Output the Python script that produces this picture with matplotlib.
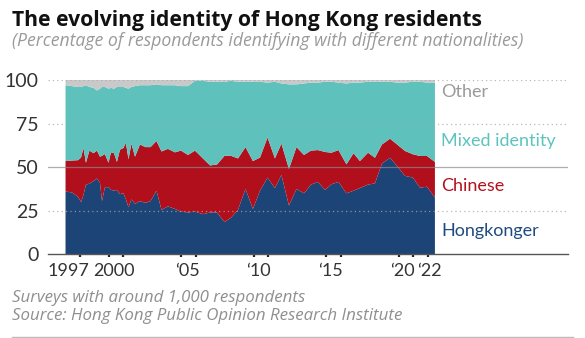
import numpy as np
import matplotlib
matplotlib.use("Agg")
import matplotlib.pyplot as plt

plt.rcParams['font.family'] = ['Lato', 'DejaVu Sans']

# survey dates (decimal years) and shares
dates = [1997.0, 1997.44, 1997.86, 1998.07, 1998.24, 1998.41, 1998.65, 1998.93,
         1999.17, 1999.38, 1999.52, 1999.72, 1999.97, 2000.14, 2000.35, 2000.55,
         2000.76, 2001.0, 2001.17, 2001.35, 2001.55, 2001.8, 2002.14, 2002.52,
         2002.87, 2003.28, 2003.63, 2004.07, 2004.56, 2004.97, 2005.46, 2005.94,
         2006.49, 2006.98, 2007.46, 2007.98, 2008.43, 2008.91, 2009.43, 2009.94,
         2010.43, 2010.95, 2011.46, 2011.91, 2012.43, 2012.95, 2013.47, 2013.95,
         2014.43, 2014.92, 2015.37, 2015.85, 2016.40, 2016.89, 2017.33, 2017.89,
         2018.37, 2018.85, 2019.41, 2019.89, 2020.44, 2020.99, 2021.48, 2021.96,
         2022.51]
hongkonger = [36, 35.5, 33, 30, 34, 40, 40.5, 42, 43.5, 41, 30.5, 38.5, 38.5, 37,
              36.5, 37, 34.5, 35, 31.5, 27, 31.5, 29, 30.5, 29.5, 30.5, 36.5, 25.5,
              27.5, 26, 24.5, 24, 24.5, 23, 24, 24, 18.5, 21, 25.5, 37.5, 26, 36.5,
              44, 38, 45.5, 28, 37.5, 35, 40, 41.5, 37, 40.2, 41.5, 35, 36.5, 38,
              40, 40.7, 52, 55.4, 50.7, 45, 44, 38.2, 38.8, 32.5]
chinese = [17.5, 18.3, 21, 25.5, 27, 12.5, 19, 16, 16, 15, 26, 19, 14, 21.5, 21.5,
           16, 25.5, 26, 32.5, 27.5, 32, 27, 32.5, 32, 31, 28.5, 33.5, 33, 32.5,
           35, 33, 35, 32, 27, 27.5, 38, 35.5, 29.5, 24, 27.5, 19, 23, 17, 18, 21,
           24, 22, 19.5, 18.3, 21.7, 18.1, 18.3, 16.6, 21.5, 15.5, 18.3, 14.7, 11,
           10.9, 12.4, 14.3, 13.4, 18.2, 17.6, 20.5]
other = [3, 3.5, 4, 4, 3.5, 3, 4, 4.5, 6, 5, 4, 4, 5, 4.5, 5, 4, 4, 4, 4.5, 5, 4,
         3.5, 3, 3, 3, 2.5, 3, 3, 3, 3.5, 3.5, 0.5, 0.5, 1, 1, 1, 0.5, 1, 1, 1, 1,
         1.5, 1, 2, 2.5, 2.5, 2, 1.5, 1.5, 1, 1, 1.5, 2, 1.5, 1.5, 1, 1, 1, 1, 1.5,
         1.5, 1, 1, 1.5, 1.5]
mixed = [100 - h - c - o for h, c, o in zip(hongkonger, chinese, other)]

series_names = ['Hongkonger', 'Chinese', 'Mixed identity', 'Other']
series_colors = ['#1d4476', '#b20f1c', '#5ec1bb', '#c9c9c9']
label_colors = ['#1f4c80', '#b3111c', '#5cc4bf', '#9a9a9a']
label_y = [10.3, 36.2, 61.9, 90.5]

tick_years = [1998, 2000, 2001, 2005, 2006, 2010, 2011, 2015, 2016, 2020, 2021, 2022]
label_pos = [1997.2, 2000.35, 2005.4, 2010.3, 2015.3, 2020.25, 2022.1]
label_txt = ['1997', '2000', '\u201805', '\u201810', '\u201815', '\u201820', '\u201822']

fig = plt.figure(figsize=(5.85, 3.38), dpi=100)
ax = fig.add_axes([48 / 585, 83.7 / 338, 520 / 585, 174.3 / 338])

ax.stackplot(dates, hongkonger, chinese, mixed, other, colors=series_colors,
             linewidth=0, zorder=1)

ax.set_xlim(1995.79, 2031.7)
ax.set_ylim(0, 100)

for v in [25, 75, 100]:
    ax.axhline(v, color='#a8a8a8', lw=0.9, ls=(0, (1, 2.5)), zorder=3, alpha=0.8)
ax.axhline(50, color='#8a8a8a', lw=0.9, zorder=3, alpha=0.7)
ax.axhline(0, color='#555555', lw=1.0, zorder=4, clip_on=False)

for s in ax.spines.values():
    s.set_visible(False)

ax.set_yticks([0, 25, 50, 75, 100])
ax.set_yticklabels(['0', '25', '50', '75', '100'])
ax.tick_params(axis='y', length=0, pad=7, labelsize=14, labelcolor='#333333')

ax.set_xticks(label_pos)
ax.set_xticklabels(label_txt)
ax.set_xticks(tick_years, minor=True)
ax.tick_params(axis='x', which='major', length=0, pad=6, labelsize=13,
               labelcolor='#333333')
ax.tick_params(axis='x', which='minor', length=2.5, width=1.6, color='#222222',
               direction='out')

for name, col, yv in zip(series_names, label_colors, label_y):
    ax.text(2022.93, yv, name, color=col, fontsize=13, va='baseline', ha='left')

osans = ['Open Sans', 'DejaVu Sans']
fig.text(12 / 585, 1 - 26 / 338, 'The evolving identity of Hong Kong residents',
         fontsize=15.2, fontweight='bold', color='#111111', va='baseline',
         family=osans)
fig.text(12 / 585, 1 - 45.5 / 338,
         '(Percentage of respondents identifying with different nationalities)',
         fontsize=12.7, style='italic', color='#9a9a9a', va='baseline', family=osans)
fig.text(12 / 585, 1 - 301.7 / 338, 'Surveys with around 1,000 respondents',
         fontsize=12.2, style='italic', color='#8f8f8f', va='baseline', family=osans)
fig.text(12 / 585, 1 - 320 / 338, 'Source: Hong Kong Public Opinion Research Institute',
         fontsize=12.2, style='italic', color='#8f8f8f', va='baseline', family=osans)
fig.add_artist(plt.Line2D([12 / 585, 573 / 585], [1 - 336.5 / 338, 1 - 336.5 / 338],
                          color='#bbbbbb', lw=1))

fig.savefig('out.png', dpi=100)
